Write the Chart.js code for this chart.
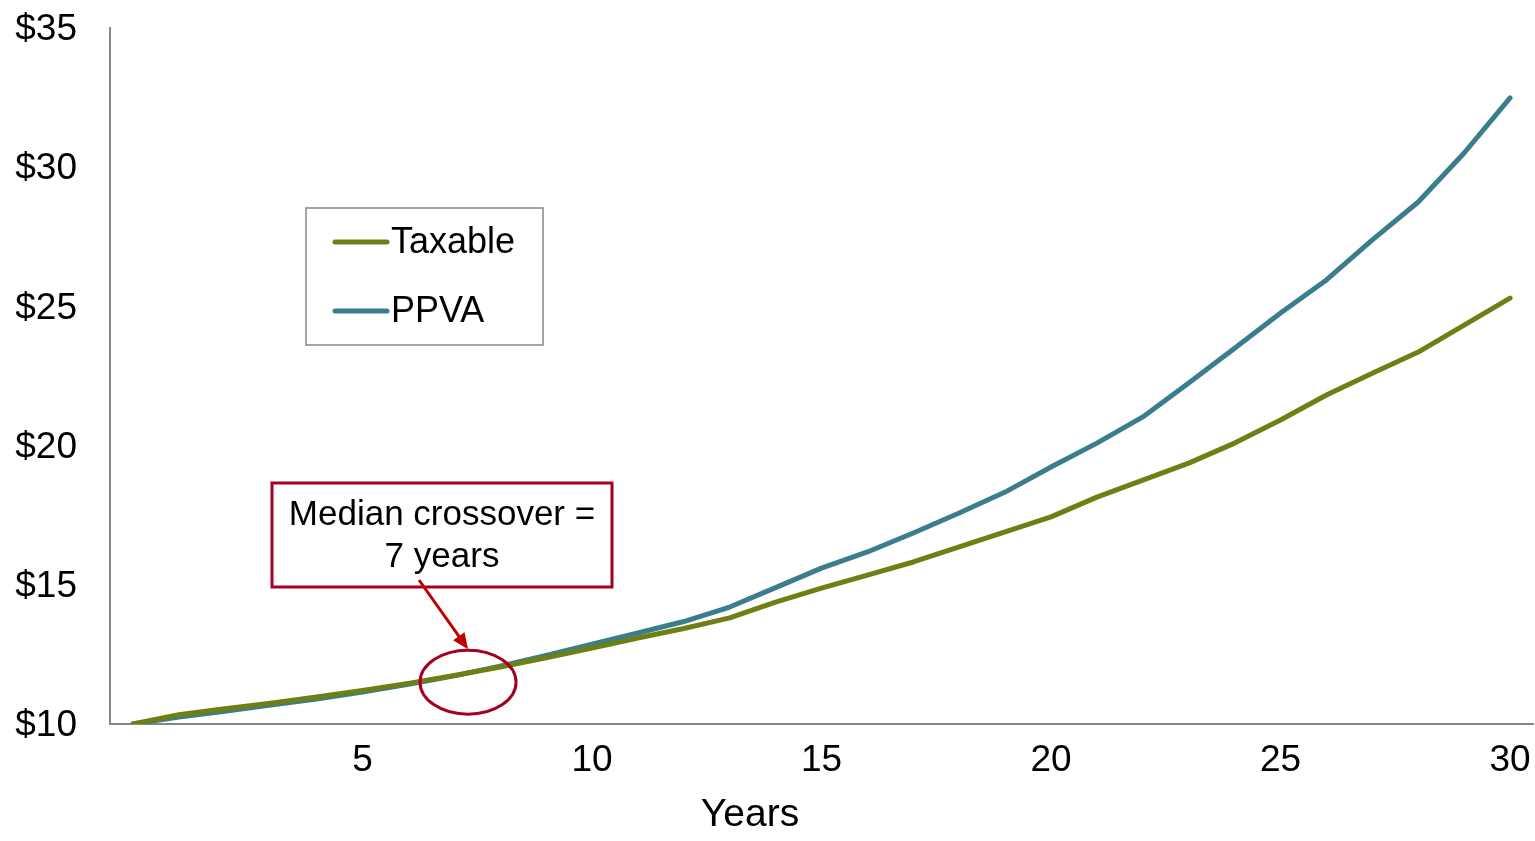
<!DOCTYPE html>
<html>
<head>
<meta charset="utf-8">
<script src="https://cdn.jsdelivr.net/npm/chart.js@4.4.1/dist/chart.umd.min.js"></script>
<style>
  html, body { margin: 0; padding: 0; background: #fff; }
  #wrap { width: 1535px; height: 841px; }
</style>
</head>
<body>
<div id="wrap"><canvas id="chart" width="1535" height="841"></canvas></div>
<script>
// --- data ---
const years = Array.from({ length: 31 }, (_, i) => String(i));
const taxable = [10, 10.33, 10.55, 10.75, 10.97, 11.2, 11.46, 11.74, 12.05, 12.38, 12.73,
  13.09, 13.43, 13.81, 14.38, 14.88, 15.35, 15.82, 16.36, 16.9, 17.44,
  18.15, 18.76, 19.37, 20.09, 20.92, 21.82, 22.6, 23.36, 24.33, 25.3];
const ppva = [10, 10.25, 10.46, 10.68, 10.9, 11.15, 11.43, 11.73, 12.08, 12.46, 12.87,
  13.27, 13.68, 14.2, 14.9, 15.6, 16.18, 16.86, 17.58, 18.33, 19.23,
  20.09, 21.03, 22.25, 23.5, 24.76, 25.95, 27.39, 28.75, 30.51, 32.49];
const seriesNames = ['Taxable', 'PPVA'];
const xLabelEvery = 5;
const yMin = 10, yMax = 35, yStep = 5;
const xTitle = 'Years';
const noteLines = ['Median crossover =', '7 years'];
const crossoverYear = 7.3;

const FONT = '"Liberation Sans", Arial, sans-serif';
const taxColor = '#6E7F14';
const ppvaColor = '#3A7D8C';
const axisColor = '#868686';
const boxRed = '#A50021';
const arrowRed = '#C00000';

// Legend box drawn inside the plot, like the original
const boxLegend = {
  id: 'boxLegend',
  afterDraw(chart) {
    const ctx = chart.ctx;
    const x = 306, y = 208, w = 237, h = 137;
    ctx.save();
    ctx.fillStyle = '#fff';
    ctx.fillRect(x, y, w, h);
    ctx.strokeStyle = axisColor;
    ctx.lineWidth = 1.5;
    ctx.strokeRect(x, y, w, h);
    chart.data.datasets.forEach((ds, i) => {
      const cy = 242 + i * 69;
      ctx.strokeStyle = ds.borderColor;
      ctx.lineWidth = 5;
      ctx.lineCap = 'round';
      ctx.beginPath();
      ctx.moveTo(335, cy);
      ctx.lineTo(387, cy);
      ctx.stroke();
      ctx.fillStyle = '#000';
      ctx.font = '36px ' + FONT;
      ctx.textBaseline = 'middle';
      ctx.textAlign = 'left';
      ctx.fillText(ds.label, 391, cy + 1);
    });
    ctx.restore();
  }
};

// Callout box, arrow, ellipse around the crossover, and the x title
const crossoverNote = {
  id: 'crossoverNote',
  afterDraw(chart) {
    const ctx = chart.ctx;
    const xs = chart.scales.x, ys = chart.scales.y;
    ctx.save();
    // x axis title (sits left of the plot centre in the original)
    ctx.fillStyle = '#000';
    ctx.font = '39px ' + FONT;
    ctx.textAlign = 'center';
    ctx.textBaseline = 'middle';
    ctx.fillText(xTitle, 750, 815);
    // text box
    ctx.fillStyle = '#fff';
    ctx.fillRect(272, 483, 340, 104);
    ctx.strokeStyle = boxRed;
    ctx.lineWidth = 3;
    ctx.strokeRect(272, 483, 340, 104);
    ctx.fillStyle = '#000';
    ctx.font = '35px ' + FONT;
    ctx.fillText(noteLines[0], 442, 515);
    ctx.fillText(noteLines[1], 442, 557);
    // ellipse
    const cx = xs.getPixelForValue(crossoverYear);
    const cy = ys.getPixelForValue(11.5);
    ctx.strokeStyle = boxRed;
    ctx.lineWidth = 3;
    ctx.beginPath();
    ctx.ellipse(cx, cy, 48, 32, 0, 0, Math.PI * 2);
    ctx.stroke();
    // arrow
    const sx = 419, sy = 580, tx = cx, ty = cy - 33;
    const ang = Math.atan2(ty - sy, tx - sx);
    ctx.strokeStyle = arrowRed;
    ctx.fillStyle = arrowRed;
    ctx.lineWidth = 3;
    ctx.beginPath();
    ctx.moveTo(sx, sy);
    ctx.lineTo(tx - 12 * Math.cos(ang), ty - 12 * Math.sin(ang));
    ctx.stroke();
    ctx.beginPath();
    ctx.moveTo(tx, ty);
    ctx.lineTo(tx - 16 * Math.cos(ang) + 7 * Math.sin(ang), ty - 16 * Math.sin(ang) - 7 * Math.cos(ang));
    ctx.lineTo(tx - 16 * Math.cos(ang) - 7 * Math.sin(ang), ty - 16 * Math.sin(ang) + 7 * Math.cos(ang));
    ctx.closePath();
    ctx.fill();
    ctx.restore();
  }
};

new Chart(document.getElementById('chart').getContext('2d'), {
  type: 'line',
  data: {
    labels: years,
    datasets: [
      { label: seriesNames[0], data: taxable, borderColor: taxColor, backgroundColor: taxColor },
      { label: seriesNames[1], data: ppva, borderColor: ppvaColor, backgroundColor: ppvaColor },
    ]
  },
  options: {
    responsive: false,
    animation: false,
    events: [],
    layout: { padding: { top: 28, right: 2, left: 0, bottom: 0 } },
    elements: {
      line: { borderWidth: 5, tension: 0, borderCapStyle: 'round', borderJoinStyle: 'round' },
      point: { radius: 0 }
    },
    plugins: { legend: { display: false }, tooltip: { enabled: false } },
    scales: {
      x: {
        offset: true,
        grid: { display: false, drawTicks: false, tickLength: 0 },
        border: { display: true, color: axisColor, width: 2 },
        ticks: {
          autoSkip: false, maxRotation: 0, padding: 15, color: '#000',
          font: { family: FONT, size: 37 },
          callback: (v, i) => (i > 0 && i % xLabelEvery === 0) ? years[i] : ''
        },
        afterFit: (s) => {
          s.height = 117;
          s.paddingLeft = 0;
          s.paddingRight = 0;
        }
      },
      y: {
        min: yMin, max: yMax,
        grid: { display: false, drawTicks: false, tickLength: 0 },
        border: { display: true, color: axisColor, width: 2 },
        ticks: {
          stepSize: yStep, padding: 33, labelOffset: 2, color: '#000',
          font: { family: FONT, size: 37 },
          callback: (v) => '$' + v
        },
        afterFit: (s) => {
          s.width = 110;
          s.paddingTop = 0;
          s.paddingBottom = 0;
        }
      }
    }
  },
  plugins: [boxLegend, crossoverNote]
});
</script>
</body>
</html>
